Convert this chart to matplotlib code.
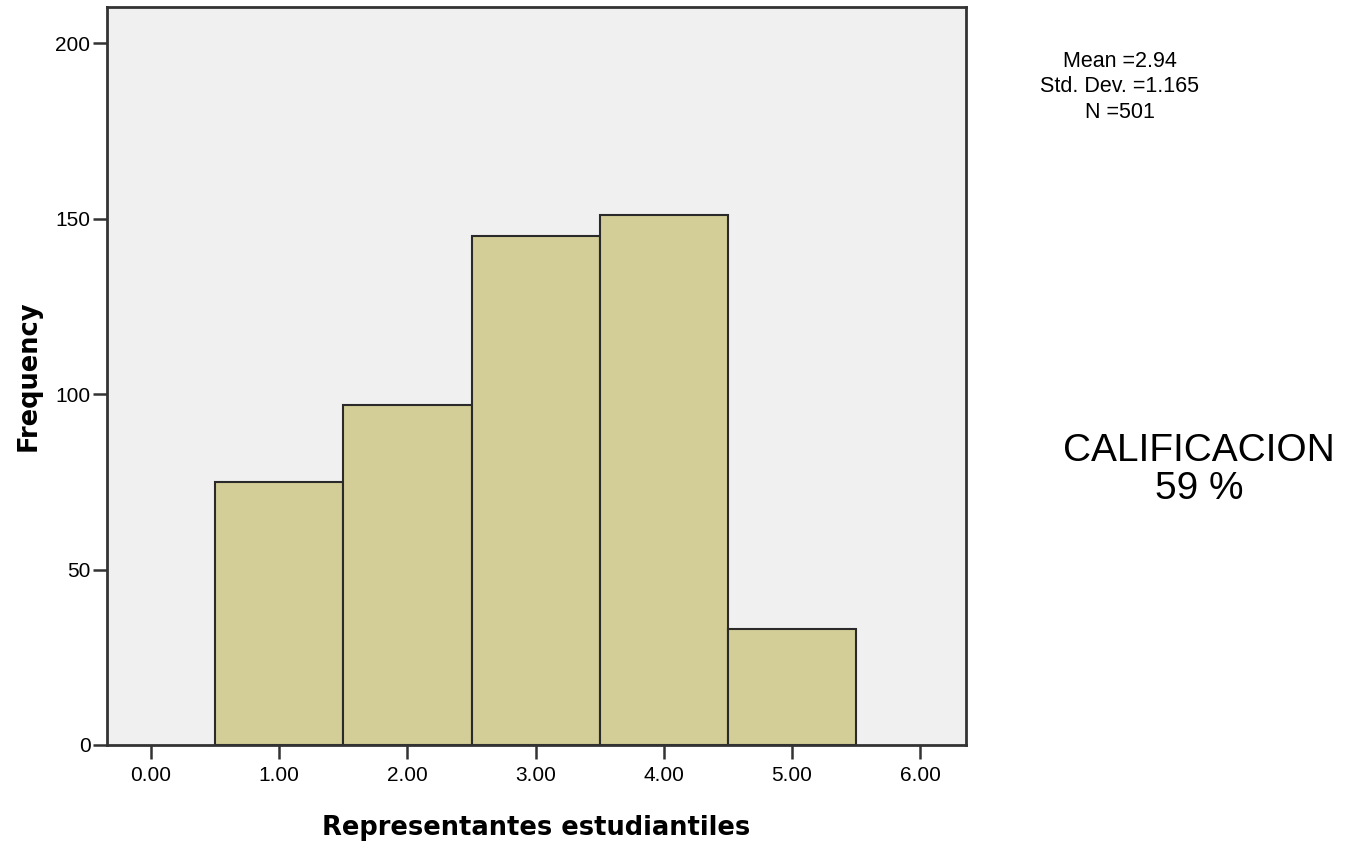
import matplotlib
matplotlib.use("Agg")
import matplotlib.pyplot as plt

# histogram counts
valores = [1, 2, 3, 4, 5]
frecuencias = [75, 97, 145, 151, 33]
xticks = [0, 1, 2, 3, 4, 5, 6]
yticks = [0, 50, 100, 150, 200]
media = 2.94
desv = 1.165
n = 501
calificacion = "59 %"

plt.rcParams["font.family"] = ["Liberation Sans", "DejaVu Sans"]

fig = plt.figure(figsize=(13.57, 8.43), dpi=100)
ax = fig.add_axes([0.0789, 0.1163, 0.633, 0.8754])
ax.set_facecolor("#F0F0F0")

ax.bar(valores, frecuencias, width=1.0, color="#D3CE97", edgecolor="#2a2a2a", linewidth=1.5)

ax.set_xlim(-0.343, 6.357)
ax.set_ylim(0, 210.3)
ax.set_xticks(xticks)
ax.set_xticklabels(["%.2f" % v for v in xticks])
ax.set_yticks(yticks)
ax.tick_params(axis="y", length=10, width=1.8, pad=2, labelsize=15, color="#333333")
ax.tick_params(axis="x", length=10, width=1.8, pad=5, labelsize=15, color="#333333")
for s in ax.spines.values():
    s.set_linewidth(2)
    s.set_color("#333333")

ax.set_xlabel("Representantes estudiantiles", family="DejaVu Sans", fontweight="bold",
              fontsize=18.5, labelpad=22)
ax.set_ylabel("Frequency", family="DejaVu Sans", fontweight="bold", fontsize=18.5, labelpad=10)

fig.text(1120 / 1357, 1 - 87 / 843,
         "Mean =%.2f\nStd. Dev. =%.3f\nN =%d" % (media, desv, n),
         ha="center", va="center", fontsize=15.5, linespacing=1.3)
fig.text(1199 / 1357, 1 - 470 / 843, "CALIFICACION\n" + calificacion,
         ha="center", va="center", fontsize=28, linespacing=1.1)

fig.savefig("out.png", dpi=100)
